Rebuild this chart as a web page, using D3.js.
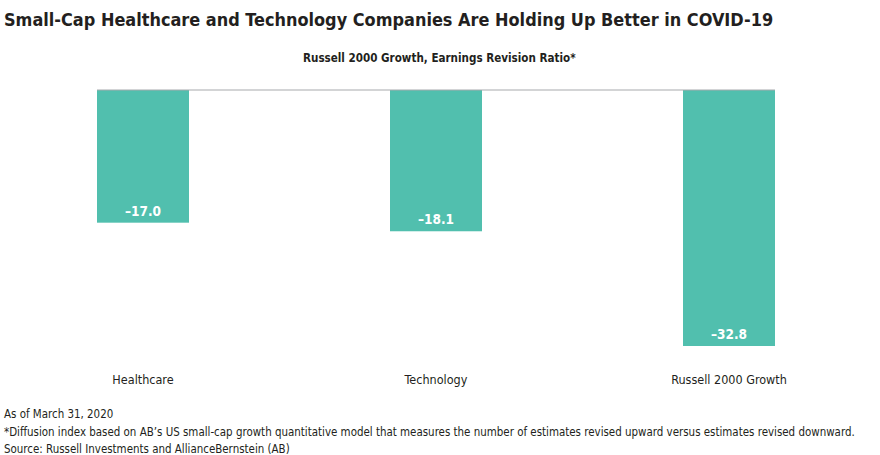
<!DOCTYPE html>
<html>
<head>
<meta charset="utf-8">
<script src="https://cdn.jsdelivr.net/npm/d3@7"></script>
<style>
  body { margin: 0; background: #fff; }
  text { font-family: "DejaVu Sans Condensed", "Liberation Sans Narrow", sans-serif; }
</style>
</head>
<body>
<div id="chart"></div>
<script>
// Data
var categories = ["Healthcare", "Technology", "Russell 2000 Growth"];
var values = [-17.0, -18.1, -32.8];

var title = "Small-Cap Healthcare and Technology Companies Are Holding Up Better in COVID-19";
var subtitle = "Russell 2000 Growth, Earnings Revision Ratio*";
var notes = [
  "As of March 31, 2020",
  "*Diffusion index based on AB\u2019s US small-cap growth quantitative model that measures the number of estimates revised upward versus estimates revised downward.",
  "Source: Russell Investments and AllianceBernstein (AB)"
];

var svgWidth = 880;
var svgHeight = 455;

var svg = d3.select("#chart")
  .append("svg")
  .attr("width", svgWidth)
  .attr("height", svgHeight);

// shrink/grow a text's font size so it spans the wanted width
function fitWidth(sel, w) {
  var fs = parseFloat(sel.style("font-size"));
  var cur = sel.node().getComputedTextLength();
  sel.style("font-size", (fs * w / cur) + "px");
}

// title + subtitle
var titleText = svg.append("text")
  .attr("x", 4)
  .attr("y", 26)
  .style("font-size", "20px")
  .style("font-weight", "bold")
  .style("fill", "#231f20")
  .text(title);
fitWidth(titleText, 770);

var subText = svg.append("text")
  .attr("x", 303)
  .attr("y", 62)
  .style("font-size", "12px")
  .style("font-weight", "bold")
  .style("fill", "#231f20")
  .text(subtitle);
fitWidth(subText, 273);

// scales
var x = d3.scaleBand()
  .domain(categories)
  .range([97, 775])
  .paddingInner(0.686)
  .paddingOuter(0);

var y = d3.scaleLinear()
  .domain([0, -32.8])
  .range([90, 346]);

var data = categories.map(function(c, i) { return {cat: c, val: values[i]}; });

// bars
svg.selectAll(".bar")
  .data(data)
  .enter()
  .append("rect")
  .attr("class", "bar")
  .attr("x", d => x(d.cat))
  .attr("y", y(0))
  .attr("width", x.bandwidth())
  .attr("height", d => y(d.val) - y(0))
  .style("fill", "#51bfae");

// zero line
svg.append("line")
  .attr("x1", 97)
  .attr("x2", 775)
  .attr("y1", y(0))
  .attr("y2", y(0))
  .style("stroke", "#a7a9ac")
  .style("stroke-width", 1);

// value labels
svg.selectAll(".valLabel")
  .data(data)
  .enter()
  .append("text")
  .attr("class", "valLabel")
  .attr("x", d => x(d.cat) + x.bandwidth() / 2)
  .attr("y", d => y(d.val) - 7)
  .attr("text-anchor", "middle")
  .style("font-size", "13.5px")
  .style("font-weight", "bold")
  .style("fill", "#fff")
  .text(d => d.val.toFixed(1).replace("-", "\u2013"));

// category axis
var bottomAxis = d3.axisBottom(x).tickSize(0).tickPadding(0);
var axisG = svg.append("g")
  .attr("transform", "translate(0, 375)")
  .call(bottomAxis);
axisG.select(".domain").remove();
axisG.selectAll("text")
  .style("font-family", "\"DejaVu Sans Condensed\", sans-serif")
  .style("font-size", "12.5px")
  .style("fill", "#231f20");

// footnotes
svg.selectAll(".note")
  .data(notes)
  .enter()
  .append("text")
  .attr("class", "note")
  .attr("x", 4)
  .attr("y", (d, i) => 418 + i * 17.5)
  .style("font-size", "11.45px")
  .style("fill", "#231f20")
  .text(d => d);
</script>
</body>
</html>
